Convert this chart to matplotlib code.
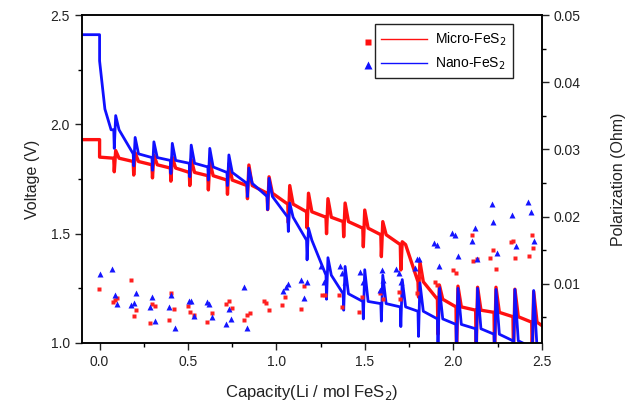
import matplotlib
matplotlib.use("Agg")
import matplotlib.pyplot as plt
from matplotlib.lines import Line2D
from matplotlib.ticker import MultipleLocator

plt.rcParams["font.family"] = ["Liberation Sans", "DejaVu Sans"]

# GITT pulse positions (capacity, Li / mol FeS2), shared by both samples
pulse_x = [0.08, 0.19, 0.296, 0.40, 0.507, 0.612, 0.72, 0.833, 0.947, 1.064, 1.17, 1.28,
           1.377, 1.488, 1.59, 1.70, 1.80, 1.91, 2.015, 2.126, 2.23, 2.337, 2.443]

# Micro-FeS2 voltage: start, baseline before each pulse, pulse minimum, pulse maximum, end
red_head_x = [-0.1, 0.0, 0.0]
red_head_v = [1.93, 1.93, 1.85]
red_pre = [1.845, 1.83, 1.815, 1.80, 1.78, 1.765, 1.745, 1.72, 1.685, 1.635, 1.60, 1.575,
           1.555, 1.525, 1.495, 1.45, 1.28, 1.20, 1.165, 1.15, 1.14, 1.12, 1.095]
red_dip = [1.783, 1.768, 1.755, 1.74, 1.72, 1.70, 1.68, 1.66, 1.61, 1.55, 1.526, 1.50,
           1.486, 1.44, 1.395, 1.334, 1.21, 1.04, 0.95, 0.95, 0.95, 0.95, 0.95]
red_peak = [1.88, 1.87, 1.86, 1.85, 1.84, 1.83, 1.82, 1.814, 1.76, 1.72, 1.685, 1.66,
            1.64, 1.608, 1.555, 1.463, 1.372, 1.265, 1.26, 1.255, 1.255, 1.246, 1.235]
red_end = 1.08

# Nano-FeS2 voltage
blue_head_x = [-0.1, 0.0, 0.0, 0.03, 0.065]
blue_head_v = [2.41, 2.41, 2.29, 2.07, 1.975]
blue_pre = [1.975, 1.865, 1.848, 1.835, 1.822, 1.805, 1.78, 1.73, 1.67, 1.575, 1.47, 1.31,
            1.225, 1.19, 1.18, 1.165, 1.145, 1.11, 1.085, 1.065, 1.04, 1.01, 0.98]
blue_dip = [1.89, 1.81, 1.79, 1.775, 1.76, 1.745, 1.72, 1.67, 1.61, 1.51, 1.38, 1.20,
            1.15, 1.11, 1.10, 1.075, 1.03, 0.95, 0.95, 0.95, 0.95, 0.95, 0.95]
blue_peak = [2.04, 1.94, 1.92, 1.913, 1.905, 1.89, 1.86, 1.80, 1.753, 1.64, 1.525, 1.39,
             1.35, 1.335, 1.31, 1.29, 1.275, 1.255, 1.25, 1.25, 1.245, 1.245, 1.24]
blue_end = 0.96

# Polarization (Ohm)
micro_pol_x = [-0.006, 0.076, 0.089, 0.10, 0.177, 0.192, 0.207, 0.286, 0.298, 0.316, 0.392,
               0.405, 0.422, 0.497, 0.512, 0.531, 0.605, 0.635, 0.714, 0.729, 0.746, 0.818,
               0.836, 0.851, 0.927, 0.94, 0.959, 1.032, 1.047, 1.138, 1.157, 1.256, 1.275,
               1.356, 1.37, 1.464, 1.482, 1.586, 1.601, 1.69, 1.70, 1.797, 1.81, 1.897,
               1.906, 1.997, 2.015, 2.104, 2.113, 2.132, 2.207, 2.226, 2.24, 2.324, 2.336,
               2.348, 2.428, 2.443, 2.452]
micro_pol = [0.0092, 0.0073, 0.0076, 0.0079, 0.0106, 0.0052, 0.0061, 0.0042, 0.0070, 0.0067,
             0.0046, 0.0086, 0.0063, 0.0067, 0.0058, 0.0053, 0.0043, 0.0057, 0.0070, 0.0074,
             0.0064, 0.0046, 0.0053, 0.0057, 0.0074, 0.0072, 0.0061, 0.0068, 0.0081, 0.0063,
             0.0097, 0.0084, 0.0084, 0.0083, 0.0066, 0.0058, 0.0081, 0.0086, 0.0078, 0.0088,
             0.0077, 0.0086, 0.0113, 0.0103, 0.0098, 0.0121, 0.0116, 0.0173, 0.0134, 0.0137,
             0.0138, 0.0151, 0.0122, 0.0162, 0.0163, 0.0139, 0.0142, 0.0172, 0.0154]
nano_pol_x = [0.0, 0.072, 0.085, 0.10, 0.177, 0.192, 0.207, 0.286, 0.298, 0.316, 0.392,
              0.405, 0.424, 0.505, 0.518, 0.531, 0.607, 0.621, 0.638, 0.712, 0.731, 0.742,
              0.818, 0.834, 1.036, 1.053, 1.066, 1.138, 1.157, 1.172, 1.25, 1.266, 1.36,
              1.373, 1.388, 1.473, 1.49, 1.586, 1.595, 1.605, 1.676, 1.69, 1.705, 1.784,
              1.793, 1.808, 1.893, 1.906, 1.921, 1.994, 2.01, 2.028, 2.104, 2.123, 2.136,
              2.217, 2.226, 2.245, 2.333, 2.354, 2.424, 2.439, 2.458]
nano_pol = [0.0115, 0.0122, 0.0084, 0.0070, 0.0068, 0.0072, 0.0087, 0.0065, 0.0081, 0.0044,
            0.0065, 0.0084, 0.0035, 0.0074, 0.0075, 0.0052, 0.0073, 0.0070, 0.0050, 0.0040,
            0.0062, 0.0048, 0.0095, 0.0034, 0.0089, 0.0096, 0.0100, 0.0105, 0.0079, 0.0102,
            0.0126, 0.0103, 0.0126, 0.0116, 0.0103, 0.0118, 0.0103, 0.0091, 0.0121, 0.0106,
            0.0122, 0.0116, 0.0103, 0.0123, 0.0137, 0.0137, 0.0161, 0.0158, 0.0126, 0.0176,
            0.0172, 0.0142, 0.0164, 0.0183, 0.0137, 0.0219, 0.0192, 0.0146, 0.0202, 0.0157,
            0.0222, 0.0207, 0.0163]


def gitt_trace(head_x, head_v, pre, dip, peak, end_v):
    # each pulse: baseline -> IR drop -> relaxation spike -> back to baseline
    xs, vs = list(head_x), list(head_v)
    for x, p, d, k in zip(pulse_x, pre, dip, peak):
        xs += [x, x + 0.003, x + 0.011, x + 0.03]
        vs += [p, d, k, p]
    xs.append(2.5)
    vs.append(end_v)
    return xs, vs


fig = plt.figure(figsize=(6.3, 4.11), dpi=100)
ax = fig.add_axes([0.130, 0.1655, 0.730, 0.798])
ax2 = ax.twinx()

rx, rv = gitt_trace(red_head_x, red_head_v, red_pre, red_dip, red_peak, red_end)
bx, bv = gitt_trace(blue_head_x, blue_head_v, blue_pre, blue_dip, blue_peak, blue_end)
ax.plot(rx, rv, color="#ff1010", lw=2.4, solid_joinstyle="round")
ax.plot(bx, bv, color="#1010ff", lw=2.0, solid_joinstyle="round")

ax2.plot(micro_pol_x, micro_pol, ls="none", marker="s", ms=3.4, color="#ff2020", mec="none")
ax2.plot(nano_pol_x, nano_pol, ls="none", marker="^", ms=4.5, color="#1515ff", mec="none")

ax.xaxis.set_major_locator(MultipleLocator(0.5))
ax.xaxis.set_minor_locator(MultipleLocator(0.25))
ax.yaxis.set_major_locator(MultipleLocator(0.5))
ax.yaxis.set_minor_locator(MultipleLocator(0.25))
ax2.yaxis.set_minor_locator(MultipleLocator(0.005))
ax2.set_yticks([0.01, 0.02, 0.03, 0.04, 0.05])
ax2.set_yticklabels(["0.01", "0.02", "0.03", "0.04", "0.05"])
ax.set_xticks([0.0, 0.5, 1.0, 1.5, 2.0, 2.5])
ax.set_xticklabels(["0.0", "0.5", "1.0", "1.5", "2.0", "2.5"])
ax.set_yticks([1.0, 1.5, 2.0, 2.5])
ax.set_yticklabels(["1.0", "1.5", "2.0", "2.5"])
ax.set_xlim(-0.1, 2.5)
ax.set_ylim(1.0, 2.5)
ax2.set_ylim(0.0012, 0.05)

for a in (ax, ax2):
    a.tick_params(which="major", direction="out", length=5, width=1.0, labelsize=10,
                  colors="#222222")
    a.tick_params(which="minor", direction="out", length=3, width=1.0)
    for s in a.spines.values():
        s.set_linewidth(1.1)
ax.tick_params(axis="y", which="both", right=False)
ax.tick_params(axis="x", which="both", top=False)

ax.set_xlabel("Capacity(Li / mol FeS$_2$)", fontsize=12, labelpad=10, color="#222222")
ax.set_ylabel("Voltage (V)", fontsize=11.5, labelpad=8, color="#222222")
ax2.set_ylabel("Polarization (Ohm)", fontsize=11.5, labelpad=22, color="#222222")

handles = [Line2D([], [], color="#ff1010", lw=1.0), Line2D([], [], color="#1010ff", lw=1.0)]
leg = ax2.legend(handles, ["Micro-FeS$_2$", "Nano-FeS$_2$"], loc="upper left",
                 bbox_to_anchor=(0.637, 0.972), borderaxespad=0, fontsize=10,
                 handlelength=3.3, fancybox=False, framealpha=1, edgecolor="#222222",
                 borderpad=0.45, labelspacing=0.55, handletextpad=0.6)
leg.get_frame().set_linewidth(1.0)
ax2.plot([0.622], [0.918], marker="s", ms=5, color="#ff1010", mec="none",
         transform=ax2.transAxes, clip_on=False)
ax2.plot([0.622], [0.848], marker="^", ms=6, color="#1010ff", mec="none",
         transform=ax2.transAxes, clip_on=False)

fig.savefig("out.png", dpi=100)
